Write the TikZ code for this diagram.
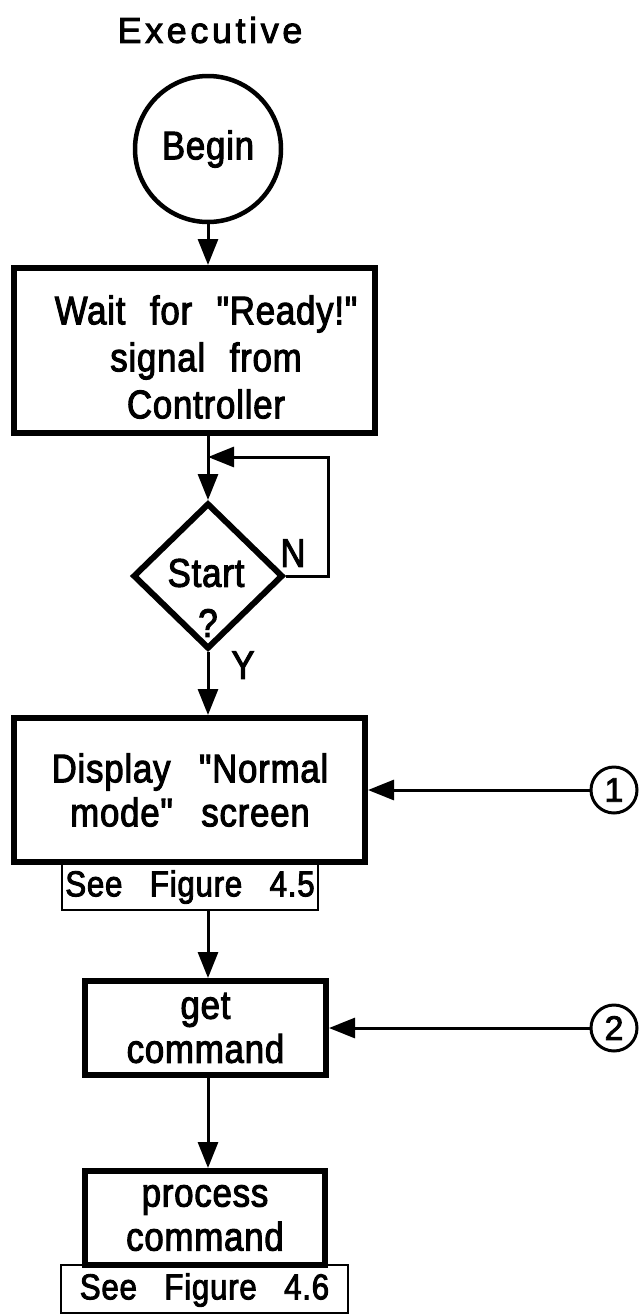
\documentclass[tikz,border=0pt]{standalone}
\usepackage{fontspec}
\setmainfont{Liberation Sans}[FakeStretch=0.87,LetterSpace=2,FakeBold=2.5,Ligatures=TeXOff]
\newfontfamily\titlefont{Liberation Sans}[LetterSpace=10,FakeBold=2.5]
\newfontfamily\numfont{Liberation Sans}[FakeBold=2.5]
\usetikzlibrary{shapes.geometric,arrows.meta}
\tikzset{
  boxthick/.style={draw,line width=6pt,rectangle,inner sep=0pt},
  boxthin/.style={draw,line width=2pt,rectangle,inner sep=0pt},
  txt/.style={font=\fontsize{40}{44}\selectfont,align=center,inner sep=0pt},
  subtxt/.style={font=\fontsize{36}{40}\selectfont,inner sep=0pt},
  arr/.style={line width=3pt,-{Triangle[width=20pt,length=26pt]}},
}
\newcommand{\gapa}{\hspace{0.35em}}
\newcommand{\gapb}{\hspace{0.45em}}
\newcommand{\gapc}{\hspace{0.5em}}
\begin{document}
\begin{tikzpicture}[x=1pt,y=-1pt]
\useasboundingbox (0,0) rectangle (642,1315);
% title
\node[font=\titlefont\fontsize{36}{40}\selectfont,inner sep=0pt] (title) at (210,30) {Executive};
% begin
\node[draw,circle,line width=4.5pt,minimum size=146pt,inner sep=0pt,txt] (begin) at (208,149) {Begin};
% box 1
\node[boxthick,minimum width=361pt,minimum height=165pt] (box1) at (194.5,350.5) {};
\node[txt,font=\fontsize{40}{47}\selectfont] (box1t) at (206,357) {Wait\gapa{} for\gapa{} "Ready!"\\signal\gapa{} from\\Controller};
% diamond
\node[draw,diamond,line width=6pt,minimum width=150pt,minimum height=146pt,inner sep=0pt] (dia) at (208,576) {};
\node[txt] (diat) at (206,573) {Start};
\node[txt] (diaq) at (208,623) {?};
\node[txt] (nlab) at (293,553) {N};
\node[txt] (ylab) at (243,665) {Y};
\coordinate (loopc) at (328,457);
\coordinate (loopin) at (208,457);
% box 2
\node[boxthick,minimum width=351pt,minimum height=144pt] (box2) at (189.5,790) {};
\node[txt] (box2t) at (190,790) {Display\gapb{} "Normal\\mode"\gapb{} screen};
\node[boxthin,minimum width=256pt,minimum height=48pt] (sub45) at (190,886) {};
\node[subtxt] (sub45t) at (190,887) {See\gapc{} Figure\gapc{} 4.5};
% connectors 1 and 2
\node[draw,circle,line width=3pt,minimum size=46pt,inner sep=0pt,font=\numfont\fontsize{34}{34}\selectfont] (c1) at (614,790) {1};
\node[draw,circle,line width=3pt,minimum size=46pt,inner sep=0pt,font=\numfont\fontsize{34}{34}\selectfont] (c2) at (614,1028) {2};
% box 3
\node[boxthick,minimum width=241pt,minimum height=94pt,txt] (box3) at (205.5,1028) {get\\command};
% box 4
\node[boxthick,minimum width=240pt,minimum height=94pt,txt] (box4) at (205,1218) {process\\command};
\node[boxthin,minimum width=287pt,minimum height=48pt] (sub46) at (204.5,1289) {};
\node[subtxt] (sub46t) at (204.5,1290) {See\gapc{} Figure\gapc{} 4.6};
% arrows
\draw[arr] (begin.south) -- (begin.south |- box1.north);
\draw[arr] (box1.south -| dia.north) -- (dia.north);
\draw[arr] (dia.east) -| (loopc) -- (loopin);
\draw[arr] (dia.south) -- (dia.south |- box2.north);
\draw[arr] (sub45.south -| dia.south) -- (box3.north -| dia.south);
\draw[arr] (box3.south -| dia.south) -- (box4.north -| dia.south);
\draw[arr] (c1.west) -- (c1.west -| box2.east);
\draw[arr] (c2.west) -- (c2.west -| box3.east);
\end{tikzpicture}
\end{document}
